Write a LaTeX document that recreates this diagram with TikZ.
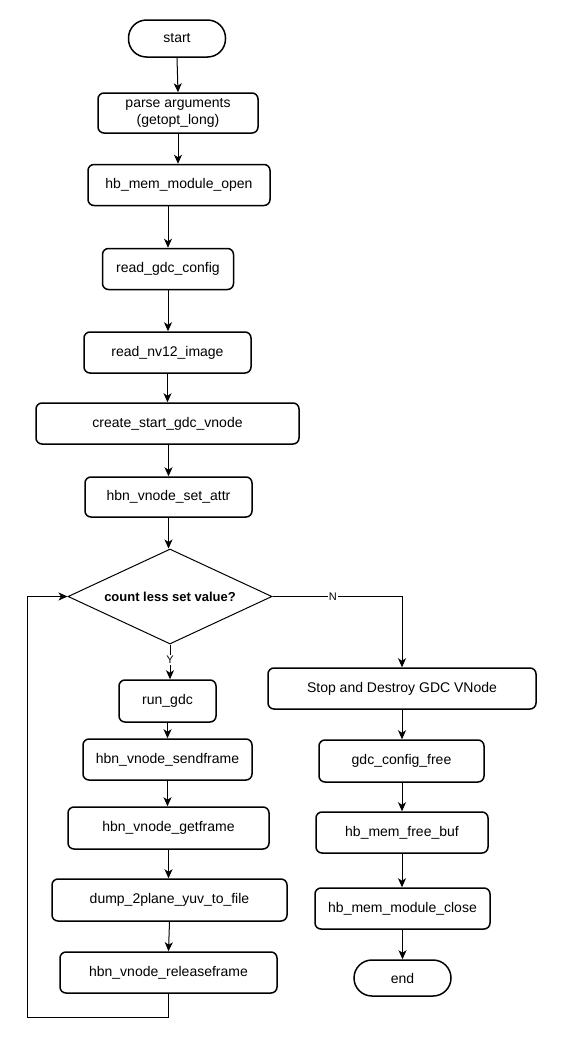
\documentclass[tikz,border=0pt]{standalone}
\usepackage{fontspec}
\setmainfont{Liberation Sans}
\usetikzlibrary{arrows.meta,shapes.geometric}
\begin{document}
\begin{tikzpicture}[x=1pt,y=-1pt,
  box/.style={draw=black,line width=1.5pt,rounded corners=6pt,inner sep=0pt,
    font=\fontsize{14}{17}\selectfont,align=center},
  term/.style={box,rounded corners=18pt},
  arr/.style={draw=black,line width=1pt,-{Stealth[length=9pt,width=8pt,inset=2.5pt]}},
  lbl/.style={fill=white,inner sep=1pt,font=\fontsize{11}{12}\selectfont}]
\useasboundingbox[fill=white] (0,0) rectangle (560,1042);
% left column
\node[term,minimum width=97pt,minimum height=37pt] (start) at (177,38.5) {start};
\node[box,minimum width=160pt,minimum height=40pt] (parse) at (178,113) {parse arguments\\(getopt\_long)};
\node[box,minimum width=182pt,minimum height=41pt] (open) at (179,185) {hb\_mem\_module\_open};
\node[box,minimum width=131pt,minimum height=41pt] (rcfg) at (168,269) {read\_gdc\_config};
\node[box,minimum width=167pt,minimum height=41pt] (rimg) at (167.5,352.5) {read\_nv12\_image};
\node[box,minimum width=263pt,minimum height=41pt] (create) at (167.5,423.5) {create\_start\_gdc\_vnode};
\node[box,minimum width=167pt,minimum height=40pt] (attr) at (168.5,497) {hbn\_vnode\_set\_attr};
\node[diamond,draw=black,line width=1pt,inner sep=0pt,shape aspect=2.147,
  minimum width=204pt,minimum height=95pt,
  font=\bfseries\fontsize{13}{15}\selectfont] (dia) at (170,596.5) {count less set value?};
\node[box,minimum width=97pt,minimum height=42pt] (run) at (167.5,701) {run\_gdc};
\node[box,minimum width=169pt,minimum height=41pt] (send) at (167.5,759.5) {hbn\_vnode\_sendframe};
\node[box,minimum width=201pt,minimum height=42pt] (get) at (168.5,828) {hbn\_vnode\_getframe};
\node[box,minimum width=235pt,minimum height=42pt] (dump) at (169.5,900) {dump\_2plane\_yuv\_to\_file};
\node[box,minimum width=217pt,minimum height=41pt] (rel) at (168.5,972.5) {hbn\_vnode\_releaseframe};
% right column
\node[box,minimum width=268pt,minimum height=41pt] (stop) at (402,688.5) {Stop and Destroy GDC VNode};
\node[box,minimum width=165pt,minimum height=42pt] (free) at (401.5,761) {gdc\_config\_free};
\node[box,minimum width=172pt,minimum height=41pt] (buf) at (402,832.5) {hb\_mem\_free\_buf};
\node[box,minimum width=175pt,minimum height=41pt] (close) at (402.5,908.5) {hb\_mem\_module\_close};
\node[term,minimum width=97pt,minimum height=36pt] (end) at (402.5,978) {end};
% connectors
\draw[arr] (start.south) -- (parse.north);
\draw[arr] (parse.south) -- (parse.south |- open.north);
\draw[arr] (open.south -| rcfg.north) -- (rcfg.north);
\draw[arr] (rcfg.south) -- (rcfg.south |- rimg.north);
\draw[arr] (rimg.south) -- (rimg.south |- create.north);
\draw[arr] (create.south -| attr.north) -- (attr.north);
\draw[arr] (attr.south) -- (attr.south |- dia.north);
\draw[arr] (dia.south) -- node[lbl,pos=0.45] {Y} (dia.south |- run.north);
\draw[arr] (run.south) -- (run.south |- send.north);
\draw[arr] (send.south) -- (send.south |- get.north);
\draw[arr] (get.south) -- (get.south |- dump.north);
\draw[arr] (dump.south) -- (rel.north);
\coordinate (lb) at (27,1017);
\draw[arr] (rel.south) |- (lb) |- (dia.west);
\draw[arr] (dia.east) -| node[lbl,pos=0.233] {N} (stop.north);
\draw[arr] (stop.south) -- (stop.south |- free.north);
\draw[arr] (free.south -| buf.north) -- (buf.north);
\draw[arr] (buf.south) -- (buf.south |- close.north);
\draw[arr] (close.south) -- (close.south |- end.north);
\end{tikzpicture}
\end{document}
